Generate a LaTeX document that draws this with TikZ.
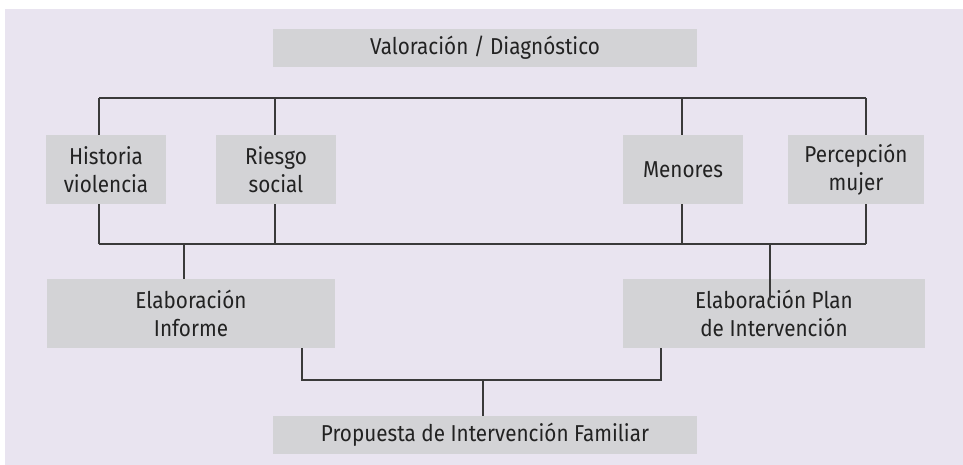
\documentclass[tikz,border=0pt]{standalone}
\usepackage{fontspec}
\setmainfont{Fira Sans}[FakeStretch=0.9]
\definecolor{bgcol}{HTML}{E9E4F0}
\definecolor{boxcol}{HTML}{D3D3D6}
\definecolor{linecol}{HTML}{3A3A3A}
\definecolor{txtcol}{HTML}{222222}
\begin{document}
\begin{tikzpicture}[x=1pt,y=-1pt,
  boxst/.style={fill=boxcol,draw=none,inner sep=0pt,align=center,text=txtcol,
    font=\fontsize{23}{28}\selectfont},
  wire/.style={draw=linecol,line width=1.2pt}]
\useasboundingbox (0,0) rectangle (963,465);
\fill[bgcol] (5,9) rectangle (963,465);
% boxes
\node[boxst,minimum width=424pt,minimum height=38pt] (val) at (485,48) {Valoración / Diagnóstico};
\node[boxst,minimum width=120pt,minimum height=69pt] (hist) at (106,169.5) {Historia\\violencia};
\node[boxst,minimum width=120pt,minimum height=69pt] (ries) at (276,169.5) {Riesgo\\social};
\node[boxst,minimum width=120pt,minimum height=69pt] (men) at (683,169.5) {Menores};
\node[boxst,minimum width=136pt,minimum height=69pt] (perc) at (856,169.5) {Percepción\\mujer};
\node[boxst,minimum width=288pt,minimum height=69pt] (inf) at (191,313.5) {Elaboración\\Informe};
\node[boxst,minimum width=302pt,minimum height=69pt] (plan) at (774,313.5) {Elaboración Plan\\de Intervención};
\node[boxst,minimum width=424pt,minimum height=38pt] (prop) at (485,435) {Propuesta de Intervención Familiar};
% coordinates
\coordinate (t1) at (99,98);
\coordinate (t2) at (275,98);
\coordinate (t3) at (682,98);
\coordinate (t4) at (866,98);
\coordinate (b1) at (99,244);
\coordinate (b2) at (275,244);
\coordinate (b3) at (682,244);
\coordinate (b4) at (866,244);
\coordinate (bi) at (184,244);
\coordinate (bp) at (770,244);
\coordinate (pin) at (770,300);
\coordinate (l1) at (302,380);
\coordinate (l2) at (661,380);
\coordinate (lm) at (483,380);
% top bus
\draw[wire] (t1) -- (t4);
\draw[wire] (t1) -- (t1 |- hist.north);
\draw[wire] (t2) -- (t2 |- ries.north);
\draw[wire] (t3) -- (t3 |- men.north);
\draw[wire] (t4) -- (t4 |- perc.north);
% bottom bus
\draw[wire] (b1) -- (b4);
\draw[wire] (b1) -- (b1 |- hist.south);
\draw[wire] (b2) -- (b2 |- ries.south);
\draw[wire] (b3) -- (b3 |- men.south);
\draw[wire] (b4) -- (b4 |- perc.south);
\draw[wire] (bi) -- (bi |- inf.north);
\draw[wire] (bp) -- (pin);
% lower bus
\draw[wire] (l1 |- inf.south) -- (l1) -- (l2) -- (l2 |- plan.south);
\draw[wire] (lm) -- (lm |- prop.north);
\end{tikzpicture}
\end{document}
